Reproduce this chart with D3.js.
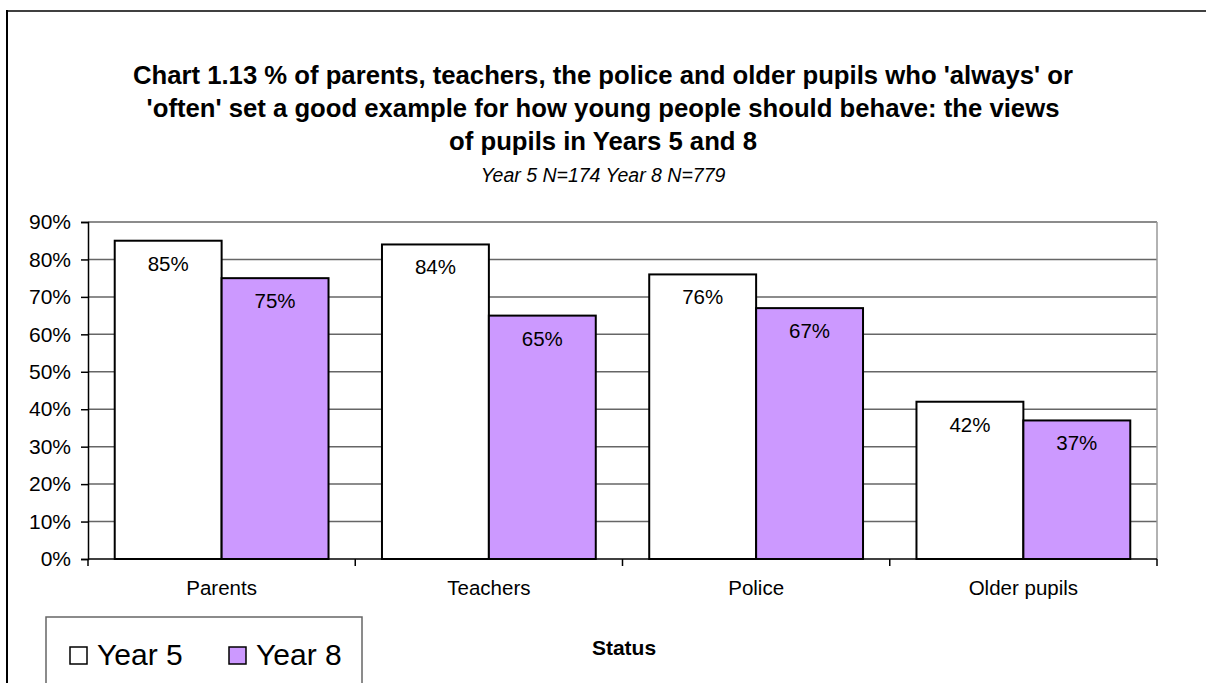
<!DOCTYPE html>
<html>
<head>
<meta charset="utf-8">
<script src="https://cdn.jsdelivr.net/npm/d3@7"></script>
<style>
  body { margin: 0; background: #fff; }
  text { font-family: "Liberation Sans", Arial, sans-serif; fill: #000; }
</style>
</head>
<body>
<div id="chart"></div>
<script>
// chart values
const categories = ["Parents", "Teachers", "Police", "Older pupils"];
const seriesNames = ["Year 5", "Year 8"];
const year5 = [85, 84, 76, 42];
const year8 = [75, 65, 67, 37];
const yTicks = [0, 10, 20, 30, 40, 50, 60, 70, 80, 90];
const titleLines = [
  "Chart 1.13 % of parents, teachers, the police and older pupils who 'always' or",
  "'often' set a good example for how young people should behave: the views",
  "of pupils in Years 5 and 8"
];
const subtitle = "Year 5 N=174 Year 8 N=779";
const xTitle = "Status";

const colors = { "Year 5": "#ffffff", "Year 8": "#cc99ff" };

const W = 1206, H = 683;
const plot = { left: 88, right: 1157, top: 222, bottom: 559 };

const svg = d3.select("#chart")
  .append("svg")
  .attr("width", W)
  .attr("height", H);

// outer frame (top and left edges visible)
svg.append("line")
  .attr("x1", 7).attr("x2", W).attr("y1", 11).attr("y2", 11)
  .attr("stroke", "#404040").attr("stroke-width", 2);
svg.append("line")
  .attr("x1", 7).attr("x2", 7).attr("y1", 10).attr("y2", H)
  .attr("stroke", "#000").attr("stroke-width", 2);

// title
const title = svg.append("text")
  .attr("text-anchor", "middle")
  .style("font-weight", "bold")
  .style("font-size", "25.7px");
titleLines.forEach((t, i) => {
  title.append("tspan").attr("x", 603).attr("y", 84 + i * 33).text(t);
});
svg.append("text")
  .attr("x", 603).attr("y", 182)
  .attr("text-anchor", "middle")
  .style("font-style", "italic")
  .style("font-size", "19.5px")
  .text(subtitle);

const x = d3.scaleBand()
  .domain(categories)
  .range([plot.left, plot.right])
  .paddingInner(0.2)
  .paddingOuter(0.1);

const xSub = d3.scaleBand()
  .domain(seriesNames)
  .range([0, x.bandwidth()]);

const y = d3.scaleLinear()
  .domain([0, 90])
  .range([plot.bottom, plot.top]);

// gridlines
svg.append("g")
  .selectAll("line")
  .data(yTicks.filter(d => d > 0))
  .join("line")
  .attr("x1", plot.left).attr("x2", plot.right)
  .attr("y1", d => y(d)).attr("y2", d => y(d))
  .attr("stroke", "#666").attr("stroke-width", 1.5);

// right edge of plot area
svg.append("line")
  .attr("x1", plot.right).attr("x2", plot.right)
  .attr("y1", plot.top).attr("y2", plot.bottom)
  .attr("stroke", "#999").attr("stroke-width", 1.5);

// y axis
const yAxis = svg.append("g")
  .attr("transform", `translate(${plot.left},0)`)
  .call(d3.axisLeft(y).tickValues(yTicks).tickFormat(d => d + "%").tickSize(7).tickPadding(10));
yAxis.select(".domain").attr("stroke", "#000").attr("stroke-width", 1.5);
yAxis.selectAll(".tick line").attr("stroke", "#000").attr("stroke-width", 1.5);
yAxis.selectAll("text")
  .style("font-size", "21px")
  .style("font-family", "Liberation Sans, Arial, sans-serif");

// bars
const rows = categories.map((c, i) => ({ cat: c, vals: [year5[i], year8[i]] }));
const groups = svg.append("g")
  .selectAll("g")
  .data(rows)
  .join("g")
  .attr("transform", d => `translate(${x(d.cat)},0)`);

groups.selectAll("rect")
  .data(d => d.vals.map((v, j) => ({ key: seriesNames[j], v })))
  .join("rect")
  .attr("x", d => xSub(d.key))
  .attr("y", d => y(d.v))
  .attr("width", xSub.bandwidth())
  .attr("height", d => y(0) - y(d.v))
  .attr("fill", d => colors[d.key])
  .attr("stroke", "#000")
  .attr("stroke-width", 2);

groups.selectAll("text.lbl")
  .data(d => d.vals.map((v, j) => ({ key: seriesNames[j], v })))
  .join("text")
  .attr("class", "lbl")
  .attr("x", d => xSub(d.key) + xSub.bandwidth() / 2)
  .attr("y", d => y(d.v) + 30)
  .attr("text-anchor", "middle")
  .style("font-size", "20.5px")
  .text(d => d.v + "%");

// x axis
const xAxisG = svg.append("g");
xAxisG.append("line")
  .attr("x1", plot.left).attr("x2", plot.right)
  .attr("y1", plot.bottom).attr("y2", plot.bottom)
  .attr("stroke", "#000").attr("stroke-width", 1.5);
const boundaries = [plot.left].concat(categories.map(c => x(c) + x.bandwidth() + x.step() * x.paddingInner() / 2));
boundaries[boundaries.length - 1] = plot.right;
xAxisG.selectAll("line.tk")
  .data(boundaries)
  .join("line")
  .attr("class", "tk")
  .attr("x1", d => d).attr("x2", d => d)
  .attr("y1", plot.bottom).attr("y2", plot.bottom + 7)
  .attr("stroke", "#000").attr("stroke-width", 1.5);
xAxisG.selectAll("text")
  .data(categories)
  .join("text")
  .attr("x", d => x(d) + x.bandwidth() / 2)
  .attr("y", 595)
  .attr("text-anchor", "middle")
  .style("font-size", "20.5px")
  .text(d => d);

// x axis title
svg.append("text")
  .attr("x", 624).attr("y", 655)
  .attr("text-anchor", "middle")
  .style("font-weight", "bold")
  .style("font-size", "21px")
  .text(xTitle);

// legend
const legend = svg.append("g");
legend.append("rect")
  .attr("x", 46).attr("y", 617)
  .attr("width", 316).attr("height", 80)
  .attr("fill", "#fff").attr("stroke", "#666").attr("stroke-width", 1.5);
const legX = [70, 229];
const items = legend.selectAll("g.item")
  .data(seriesNames)
  .join("g")
  .attr("class", "item")
  .attr("transform", (d, i) => `translate(${legX[i]},0)`);
items.append("rect")
  .attr("x", 0).attr("y", 647)
  .attr("width", 17).attr("height", 17)
  .attr("fill", d => colors[d])
  .attr("stroke", "#000").attr("stroke-width", 1.5);
items.append("text")
  .attr("x", 27).attr("y", 665)
  .style("font-size", "30px")
  .text(d => d);
</script>
</body>
</html>
